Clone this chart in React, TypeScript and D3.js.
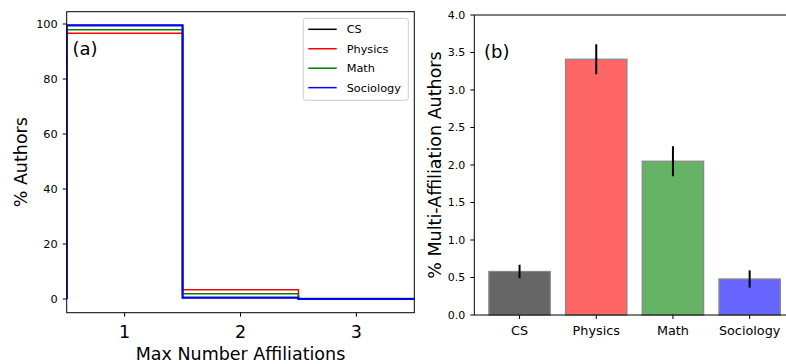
import React from "react";
import * as d3 from "d3";

// Panel (a): step histogram data
const affiliationCounts = [1, 2, 3];
const fields = ["CS", "Physics", "Math", "Sociology"];
const fieldColors = ["#000000", "#ff0000", "#008000", "#0000ff"];
const csPct = [99.42, 0.55, 0.03];
const physicsPct = [96.6, 3.35, 0.05];
const mathPct = [97.95, 1.9, 0.15];
const sociologyPct = [99.53, 0.45, 0.02];
const stepSeries = [csPct, physicsPct, mathPct, sociologyPct];
const yTicksA = [0, 20, 40, 60, 80, 100];

// Panel (b): bar data
const multiAffPct = [0.58, 3.41, 2.05, 0.48];
const multiAffErr = [0.09, 0.2, 0.2, 0.115];
const barColors = ["#666666", "#ff6666", "#66b366", "#6666ff"];
const yTicksB = [0, 0.5, 1, 1.5, 2, 2.5, 3, 3.5, 4];

const FONT = "DejaVu Sans, Verdana, sans-serif";

export default function App() {
  // ---- Panel A scales
  const xA = d3.scaleLinear().domain([0.5, 3.5]).range([66.7, 414.3]);
  const yA = d3.scaleLinear().domain([-4.975, 104.475]).range([312.7, 11.7]);
  const line = d3
    .line<[number, number]>()
    .x((d) => xA(d[0]))
    .y((d) => yA(d[1]));
  const stepPoints = (vals: number[]): [number, number][] => {
    const pts: [number, number][] = [[affiliationCounts[0] - 0.5, 0]];
    vals.forEach((v, i) => {
      pts.push([affiliationCounts[i] - 0.5, v]);
      pts.push([affiliationCounts[i] + 0.5, v]);
    });
    pts.push([affiliationCounts[affiliationCounts.length - 1] + 0.5, 0]);
    return pts;
  };

  // ---- Panel B scales
  const xB = d3.scaleLinear().domain([-0.59, 3.59]).range([474.3, 794.9]);
  const yB = d3.scaleLinear().domain([0, 4]).range([315, 15]);
  const barW = xB(0.4) - xB(-0.4);

  const [ax0, ax1] = xA.range();
  const [ayB, ayT] = yA.range();
  const [bx0, bx1] = xB.range();
  const [byB, byT] = yB.range();

  return (
    <svg
      width={786}
      height={364}
      style={{ position: "absolute", left: 0, top: 0, background: "#fff" }}
      fontFamily={FONT}
    >
      <rect x={0} y={0} width={786} height={364} fill="#fff" />
      {/* ===== Panel A ===== */}
      <defs>
        <clipPath id="clipA">
          <rect x={ax0} y={ayT} width={ax1 - ax0} height={ayB - ayT} />
        </clipPath>
      </defs>
      <g clipPath="url(#clipA)">
        {stepSeries.map((vals, i) => (
          <path
            key={fields[i]}
            d={line(stepPoints(vals)) || ""}
            fill="none"
            stroke={fieldColors[i]}
            strokeWidth={i === 3 ? 2 : 1.5}
          />
        ))}
      </g>
      <rect x={ax0} y={ayT} width={ax1 - ax0} height={ayB - ayT} fill="none" stroke="#000" strokeWidth={1} />
      {yTicksA.map((t) => (
        <g key={t}>
          <line x1={ax0 - 4} x2={ax0} y1={yA(t)} y2={yA(t)} stroke="#000" strokeWidth={1} />
          <text x={ax0 - 9} y={yA(t)} dy="0.35em" textAnchor="end" fontSize={11.3} fill="#000">
            {t}
          </text>
        </g>
      ))}
      {affiliationCounts.map((t) => (
        <g key={t}>
          <line x1={xA(t)} x2={xA(t)} y1={ayB} y2={ayB + 4} stroke="#000" strokeWidth={1} />
          <text x={xA(t)} y={337.5} textAnchor="middle" fontSize={17.5} fill="#000">
            {t}
          </text>
        </g>
      ))}
      <text x={(ax0 + ax1) / 2} y={360} textAnchor="middle" fontSize={17.5} fill="#000">
        Max Number Affiliations
      </text>
      <text
        transform={`translate(27,${(ayB + ayT) / 2}) rotate(-90)`}
        textAnchor="middle"
        fontSize={17.5}
        fill="#000"
      >
        % Authors
      </text>
      <text x={72.5} y={55} fontSize={18} fill="#000">
        (a)
      </text>
      {/* Legend */}
      <rect x={303.3} y={18.3} width={105} height={82} rx={2.5} fill="#fff" fillOpacity={0.8} stroke="#cccccc" strokeWidth={1} />
      {fields.map((f, i) => {
        const cy = 29.3 + i * 19.45;
        return (
          <g key={f}>
            <line x1={308.3} x2={336.7} y1={cy} y2={cy} stroke={fieldColors[i]} strokeWidth={1.5} />
            <text x={346.7} y={cy} dy="0.35em" fontSize={11.3} fill="#000">
              {f}
            </text>
          </g>
        );
      })}

      {/* ===== Panel B ===== */}
      {multiAffPct.map((v, i) => (
        <rect
          key={fields[i]}
          x={xB(i) - barW / 2}
          y={yB(v)}
          width={barW}
          height={yB(0) - yB(v)}
          fill={barColors[i]}
          stroke="#888888"
          strokeWidth={1.3}
        />
      ))}
      {multiAffPct.map((v, i) => (
        <line
          key={fields[i]}
          x1={xB(i)}
          x2={xB(i)}
          y1={yB(v + multiAffErr[i])}
          y2={yB(v - multiAffErr[i])}
          stroke="#000"
          strokeWidth={2}
        />
      ))}
      <line x1={bx0} x2={bx0} y1={byB} y2={byT} stroke="#000" strokeWidth={1} />
      <line x1={bx0} x2={bx1} y1={byB} y2={byB} stroke="#000" strokeWidth={1} />
      <line x1={bx0} x2={bx1} y1={byT} y2={byT} stroke="#000" strokeWidth={1} />
      {yTicksB.map((t) => (
        <g key={t}>
          <line x1={bx0 - 4} x2={bx0} y1={yB(t)} y2={yB(t)} stroke="#000" strokeWidth={1} />
          <text x={bx0 - 9} y={yB(t)} dy="0.35em" textAnchor="end" fontSize={11} fill="#000">
            {d3.format(".1f")(t)}
          </text>
        </g>
      ))}
      {fields.map((f, i) => (
        <g key={f}>
          <line x1={xB(i)} x2={xB(i)} y1={byB} y2={byB + 4} stroke="#000" strokeWidth={1} />
          <text x={xB(i)} y={335} textAnchor="middle" fontSize={12.8} fill="#000">
            {f}
          </text>
        </g>
      ))}
      <text
        transform={`translate(440.5,${(byB + byT) / 2}) rotate(-90)`}
        textAnchor="middle"
        fontSize={17.5}
        fill="#000"
      >
        % Multi-Affiliation Authors
      </text>
      <text x={484} y={58} fontSize={18} fill="#000">
        (b)
      </text>
    </svg>
  );
}
